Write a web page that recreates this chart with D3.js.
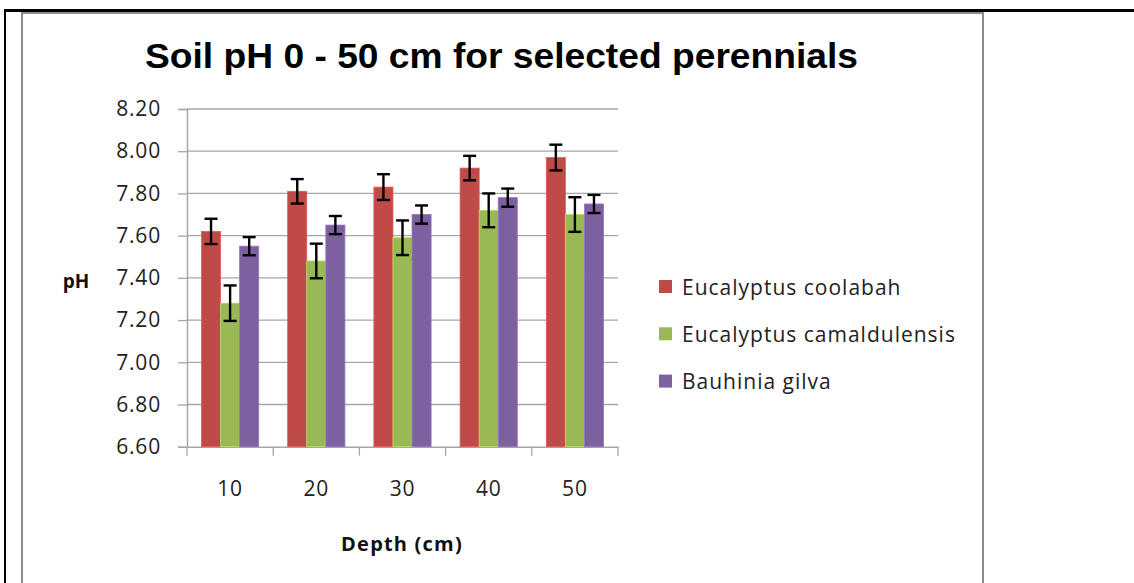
<!DOCTYPE html>
<html>
<head>
<meta charset="utf-8">
<script src="https://cdn.jsdelivr.net/npm/d3@7"></script>
<style>
  body { margin: 0; background: #fff; }
  svg { display: block; }
</style>
</head>
<body>
<svg id="chart" width="1134" height="583"></svg>
<script>
// data
const depths = ["10", "20", "30", "40", "50"];
const species = ["Eucalyptus coolabah", "Eucalyptus camaldulensis", "Bauhinia gilva"];
const coolabah = [7.62, 7.81, 7.83, 7.92, 7.97];
const camaldulensis = [7.28, 7.48, 7.59, 7.72, 7.70];
const gilva = [7.55, 7.65, 7.70, 7.78, 7.75];
const coolabahErr = [0.06, 0.058, 0.061, 0.058, 0.061];
const camaldulensisErr = [0.084, 0.082, 0.082, 0.08, 0.082];
const gilvaErr = [0.043, 0.043, 0.043, 0.043, 0.043];
const yTicks = [6.6, 6.8, 7.0, 7.2, 7.4, 7.6, 7.8, 8.0, 8.2];
const colors = ["#BE4B48", "#98B954", "#7D60A0"];

const values = [coolabah, camaldulensis, gilva];
const errs = [coolabahErr, camaldulensisErr, gilvaErr];

const font = "'Open Sans', Lato, sans-serif";
const svg = d3.select("#chart");

// page frame
svg.append("line").attr("x1", 4).attr("x2", 1134).attr("y1", 10.5).attr("y2", 10.5)
  .attr("stroke", "#000").attr("stroke-width", 3);
svg.append("line").attr("x1", 5).attr("x2", 5).attr("y1", 9).attr("y2", 583)
  .attr("stroke", "#000").attr("stroke-width", 2);
svg.append("path").attr("d", "M22,583 V13 H983 V583")
  .attr("fill", "none").attr("stroke", "#8c8c8c").attr("stroke-width", 2);

const margin = { left: 187, top: 109, right: 618, bottom: 446.7 };

const x = d3.scaleBand().domain(depths).range([margin.left, margin.right]).paddingInner(0).paddingOuter(0);
const xs = d3.scaleBand().domain(species).range([0, x.bandwidth()]).paddingInner(0).paddingOuter(0.76);
const y = d3.scaleLinear().domain([6.6, 8.2]).range([margin.bottom, margin.top]);

// gridlines
svg.append("g").selectAll("line").data(yTicks.slice(1)).join("line")
  .attr("x1", margin.left).attr("x2", margin.right)
  .attr("y1", d => y(d)).attr("y2", d => y(d))
  .attr("stroke", "#a6a6a6").attr("stroke-width", 1.3);

// y axis
const yAxis = svg.append("g").attr("transform", `translate(${margin.left},0)`)
  .call(d3.axisLeft(y).tickValues(yTicks).tickFormat(d3.format(".2f")).tickSize(9).tickPadding(17));
yAxis.select(".domain").attr("stroke", "#a6a6a6").attr("stroke-width", 1.5);
yAxis.selectAll(".tick line").attr("stroke", "#a6a6a6").attr("stroke-width", 1.3);
yAxis.selectAll("text").attr("font-family", font)
  .attr("font-size", 21).attr("letter-spacing", 0.8).attr("fill", "#222");

// x axis
const xAxis = svg.append("g").attr("transform", `translate(0,${margin.bottom})`)
  .call(d3.axisBottom(x).tickSize(0).tickPadding(34));
xAxis.select(".domain").attr("stroke", "#a6a6a6").attr("stroke-width", 1.5);
xAxis.selectAll("text").attr("font-family", font)
  .attr("font-size", 21).attr("letter-spacing", 0.8).attr("fill", "#222");
svg.append("g").selectAll("line").data(depths.concat(["end"])).join("line")
  .attr("x1", (d, i) => margin.left + i * x.bandwidth())
  .attr("x2", (d, i) => margin.left + i * x.bandwidth())
  .attr("y1", margin.bottom).attr("y2", margin.bottom + 9)
  .attr("stroke", "#a6a6a6").attr("stroke-width", 1.3);

// bars
const groups = svg.append("g").selectAll("g").data(depths).join("g")
  .attr("transform", d => `translate(${x(d)},0)`);

species.forEach((s, si) => {
  groups.append("rect")
    .attr("x", xs(s))
    .attr("width", xs.bandwidth())
    .attr("y", (d, i) => y(values[si][i]))
    .attr("height", (d, i) => margin.bottom - y(values[si][i]))
    .attr("fill", colors[si])
    .attr("stroke", d3.color(colors[si]).brighter(0.5))
    .attr("stroke-width", 0.8);
});

// error bars
species.forEach((s, si) => {
  const cx = xs(s) + xs.bandwidth() / 2;
  const eb = groups.append("g").attr("stroke", "#000").attr("stroke-width", 2.4);
  eb.append("line").attr("x1", cx).attr("x2", cx)
    .attr("y1", (d, i) => y(values[si][i] + errs[si][i]))
    .attr("y2", (d, i) => y(values[si][i] - errs[si][i]));
  [1, -1].forEach(sign => {
    eb.append("line").attr("x1", cx - 6.5).attr("x2", cx + 6.5)
      .attr("y1", (d, i) => y(values[si][i] + sign * errs[si][i]))
      .attr("y2", (d, i) => y(values[si][i] + sign * errs[si][i]));
  });
});

// title
svg.append("text").attr("x", 501.5).attr("y", 68).attr("text-anchor", "middle")
  .attr("font-family", "'Liberation Sans', Arial, sans-serif").attr("font-weight", "bold")
  .attr("font-size", 35).attr("fill", "#000")
  .attr("textLength", 713).attr("lengthAdjust", "spacingAndGlyphs")
  .text("Soil pH 0 - 50 cm for selected perennials");

// axis titles
svg.append("text").attr("x", 76).attr("y", 288).attr("text-anchor", "middle")
  .attr("font-family", font).attr("font-weight", "bold")
  .attr("font-size", 19).attr("fill", "#111").text("pH");
svg.append("text").attr("x", 402).attr("y", 551).attr("text-anchor", "middle")
  .attr("font-family", font).attr("font-weight", "bold")
  .attr("font-size", 20).attr("letter-spacing", 1.2).attr("fill", "#111").text("Depth (cm)");

// legend
const legend = svg.append("g").selectAll("g").data(species).join("g")
  .attr("transform", (d, i) => `translate(659,${287 + i * 47.3})`);
legend.append("rect").attr("x", 0).attr("y", -7).attr("width", 13).attr("height", 13)
  .attr("fill", (d, i) => colors[i]);
legend.append("text").attr("x", 23).attr("y", 7.5)
  .attr("font-family", font).attr("font-size", 21).attr("letter-spacing", 1.0).attr("fill", "#222")
  .text(d => d);
</script>
</body>
</html>
